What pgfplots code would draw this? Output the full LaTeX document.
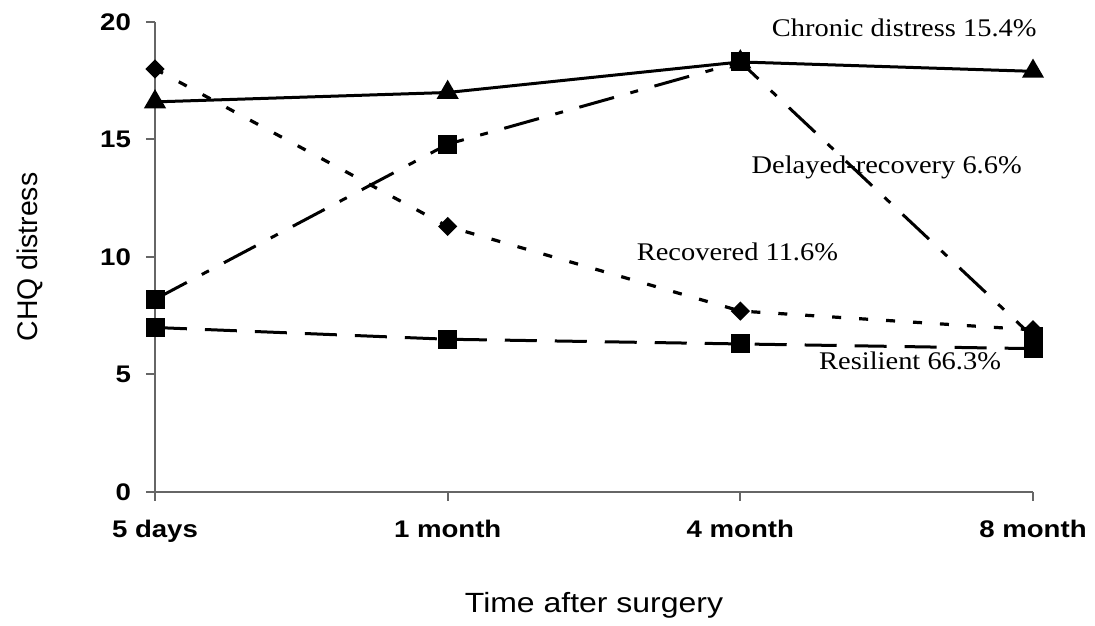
\documentclass[border=0pt]{standalone}
\usepackage{pgfplots}
\pgfplotsset{compat=1.18}
\usepackage{fontspec}
\setmainfont{Liberation Sans}[FakeStretch=1.15]
\newfontfamily\plainsans{Liberation Sans}
\newfontfamily\timesfont{Liberation Serif}[FakeStretch=1.12]
\begin{document}
\begin{tikzpicture}
\begin{axis}[
  name=ax,
  at={(0,0)}, anchor=south west,
  scale only axis,
  width=439pt, height=235pt,
  xmin=0, xmax=3, ymin=0, ymax=20,
  axis lines*=left,
  axis line style={black!60, line width=1pt},
  xtick={0,1,2,3},
  xticklabels={5 days,1 month,4 month,8 month},
  ytick={0,5,10,15,20},
  tick style={black!60, line width=1pt},
  tick align=outside,
  major tick length=4.5pt,
  ticklabel style={font=\fontsize{12}{13}\selectfont\bfseries},
  xticklabel style={yshift=-6pt},
  yticklabel style={xshift=-4pt},
  /pgf/number format/assume math mode=true,
  xlabel={Time after surgery},
  ylabel={CHQ distress},
  xlabel style={font=\fontsize{13.9}{15}\selectfont, at={(axis description cs:0.5,0)}, anchor=center, yshift=-56.5pt},
  ylabel style={font=\plainsans\fontsize{14.2}{15}\selectfont, at={(axis description cs:0,0.5)}, anchor=center, yshift=62.5pt},
  clip=false,
]
\addplot[black, line width=1.5pt, mark=triangle*, mark size=4.9pt, mark options={solid}]
  coordinates {(0,16.6) (1,17.0) (2,18.3) (3,17.9)};
\addplot[black, line width=1.5pt, dash pattern=on 18pt off 8.5pt on 4pt off 8.5pt, mark=square*, mark size=4pt, mark options={solid}]
  coordinates {(0,8.2) (1,14.8) (2,18.3) (3,6.6)};
\addplot[black, line width=1.6pt, dash pattern=on 4.5pt off 9pt, mark=square*, mark size=2.6pt, mark options={solid, rotate=45}]
  coordinates {(0,18.0) (1,11.3) (2,7.7) (3,6.9)};
\addplot[black, line width=1.5pt, dash pattern=on 16pt off 9pt, mark=square*, mark size=4pt, mark options={solid}]
  coordinates {(0,7.0) (1,6.5) (2,6.3) (3,6.1)};
\node[font=\timesfont\fontsize{12.7}{14}\selectfont] at (axis cs:2.56,19.74) {Chronic distress 15.4\%};
\node[font=\timesfont\fontsize{12.7}{14}\selectfont] at (axis cs:2.50,13.83) {Delayed-recovery 6.6\%};
\node[font=\timesfont\fontsize{12.7}{14}\selectfont] at (axis cs:1.99,10.2) {Recovered 11.6\%};
\node[font=\timesfont\fontsize{12.7}{14}\selectfont] at (axis cs:2.58,5.57) {Resilient 66.3\%};
\end{axis}
\pgfresetboundingbox
\path[use as bounding box] (-77.5pt,-66.5pt) rectangle (470pt,246pt);
\end{tikzpicture}
\end{document}
